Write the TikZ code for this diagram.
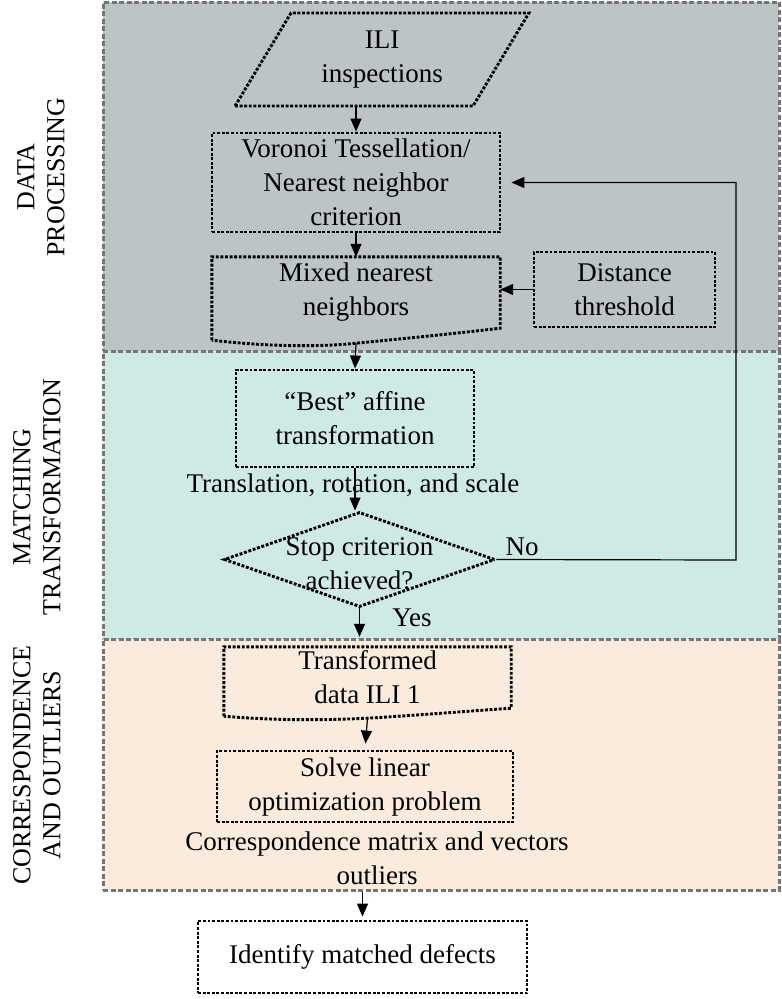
\documentclass[tikz,border=0pt]{standalone}
\usepackage{fontspec}
\setmainfont{Liberation Serif}
\usetikzlibrary{shapes.geometric,arrows.meta}
\pgfdeclarelayer{bg}
\pgfsetlayers{bg,main}
\definecolor{procgrey}{RGB}{188,196,198}
\definecolor{matchteal}{RGB}{207,233,228}
\definecolor{corrpeach}{RGB}{250,235,220}
\definecolor{bandline}{RGB}{118,118,118}
\tikzset{
    every node/.style={align=center, inner sep=0pt, font=\fontsize{27}{34}\selectfont},
    dots/.style={line width=2.9pt, dash pattern=on 2.9pt off 1.7pt},
    box/.style={shape=rectangle, draw, dots},
    band/.style={shape=rectangle, draw=bandline, line width=3pt, dash pattern=on 5pt off 2.5pt},
    flow/.style={-{Triangle[length=13pt,width=11pt]}, line width=1.2pt},
    side/.style={rotate=90, font=\fontsize{26}{30}\selectfont}
}
\tikzset{every label/.style={shape=rectangle, draw=none, fill=none}}

\begin{document}
\begin{tikzpicture}[x=1pt, y=-1pt]
        \useasboundingbox (0,0) rectangle (782,999);
        \node (ili) [box, trapezium, trapezium left angle=57, trapezium right angle=123, trapezium stretches=true, minimum width=294pt, minimum height=93pt] at (382, 59.5) {ILI\\inspections};
        \node (vor) [box, minimum width=288pt, minimum height=99pt] at (356, 182.5) {Voronoi Tessellation/\\Nearest neighbor\\criterion};
        \node (mix) [minimum width=288pt, minimum height=86pt, label={[yshift=7.5pt]center:{Mixed nearest\\neighbors}}] at (356, 300) {};
        \node (dist) [box, minimum width=181pt, minimum height=75pt] at (624.5, 289.5) {Distance\\threshold};
        \node (best) [box, minimum width=238pt, minimum height=97pt] at (355, 418.5) {“Best” affine\\transformation};
        \node (tr) at (353, 485) {Translation, rotation, and scale};
        \node (stop) [box, diamond, minimum width=271pt, minimum height=95pt, label={[yshift=-4pt]center:{Stop criterion\\achieved?}}] at (359.5, 559.5) {};
        \node (no) at (522, 547) {No};
        \node (yes) at (412, 618) {Yes};
        \node (trans) [minimum width=287pt, minimum height=71pt, label={[yshift=5pt]center:{Transformed\\data ILI 1}}] at (367.5, 682.5) {};
        \node (solve) [box, minimum width=296pt, minimum height=71pt] at (365, 786.5) {Solve linear\\optimization problem};
        \node (corr) at (377, 858.5) {Correspondence matrix and vectors\\outliers};
        \node (ident) [box, minimum width=329pt, minimum height=72pt] at (362.5, 957) {Identify matched defects};
        \coordinate (fb) at (736, 560);
        \node (lab1) [side] at (41, 177) {DATA\\PROCESSING};
        \node (lab2) [side] at (37, 497) {MATCHING\\TRANSFORMATION};
        \node (lab3) [side] at (37, 765) {CORRESPONDENCE\\AND OUTLIERS};
        % document shapes
        \draw [dots] ([yshift=3pt]mix.south west) -- (mix.north west) -- (mix.north east) -- ([yshift=15pt]mix.south east)
                .. controls (460,333) and (400,339) .. (mix.south) .. controls (330,346) and (280,348) .. cycle;
        \draw [dots] ([yshift=2pt]trans.south west) -- (trans.north west) -- (trans.north east) -- ([yshift=10pt]trans.south east)
                .. controls (470,711) and (420,715) .. (trans.south) .. controls (330,720) and (280,721) .. cycle;
        \begin{pgfonlayer}{bg}
                \node (band1) [band, fill=procgrey, minimum width=676pt, minimum height=349pt] at (441, 176.5) {};
                \node (band2) [band, fill=matchteal, minimum width=676pt, minimum height=288pt] at (441, 495) {};
                \node (band3) [band, fill=corrpeach, minimum width=676pt, minimum height=251pt] at (441, 764.5) {};
                \draw (ili.south -| vor.north) edge [flow] (vor.north);
                \draw (vor.south) edge [flow] (mix.north);
                \draw (dist.west) edge [flow] (dist.west -| mix.east);
                \draw (mix.south) edge [flow] (best.north);
                \draw (best.south) edge [flow] (best.south |- stop.north);
                \draw (stop.south) edge [flow, shorten >=10pt] (stop.south |- trans.north);
                \draw (trans.south) edge [flow, shorten >=6pt] (solve.north);
                \draw (band3.south -| ident.north) edge [flow, shorten >=3pt] (ident.north);
                \draw [flow, shorten >=10pt] (stop.east) -- (fb) |- (vor.east);
        \end{pgfonlayer}
\end{tikzpicture}
\end{document}
